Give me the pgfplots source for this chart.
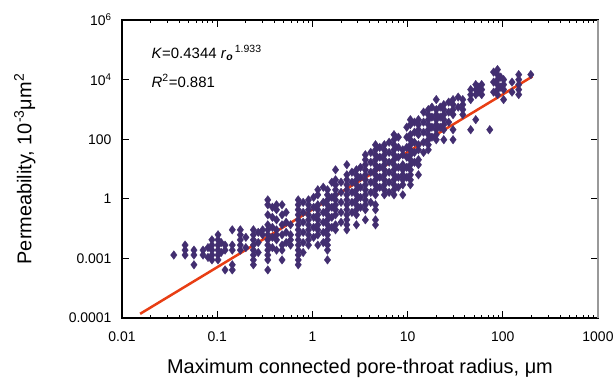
\documentclass[border=0pt]{standalone}
\usepackage{fontspec}
\setmainfont{Liberation Sans}
\usepackage{pgfplots}
\usepackage{pgfplotstable}
\pgfplotsset{compat=1.18}
\definecolor{pts}{RGB}{66,46,112}
\definecolor{fitc}{RGB}{232,62,20}
\pgfplotstableread{
r K
0.035 0.013
0.046 0.028
0.046 0.019
0.046 0.013
0.057 0.019
0.057 0.013
0.057 0.0061
0.071 0.019
0.071 0.013
0.08 0.023
0.08 0.0108
0.088 0.042
0.088 0.028
0.088 0.019
0.088 0.013
0.088 0.0089
0.102 0.062
0.102 0.042
0.102 0.028
0.102 0.019
0.102 0.013
0.102 0.0089
0.11 0.034
0.11 0.0158
0.121 0.028
0.121 0.019
0.121 0.0041
0.144 0.091
0.144 0.028
0.144 0.019
0.144 0.0061
0.144 0.0041
0.175 0.091
0.175 0.062
0.175 0.042
0.175 0.028
0.175 0.019
0.2 0.051
0.2 0.023
0.24 0.091
0.24 0.062
0.24 0.042
0.24 0.028
0.24 0.019
0.24 0.013
0.24 0.0089
0.24 0.0061
0.27 0.075
0.27 0.034
0.27 0.0158
0.30 0.091
0.30 0.062
0.34 0.92
0.34 0.63
0.34 0.29
0.34 0.134
0.34 0.091
0.34 0.062
0.34 0.042
0.34 0.028
0.34 0.019
0.34 0.013
0.34 0.0089
0.34 0.0041
0.38 0.52
0.38 0.24
0.38 0.11
0.38 0.051
0.38 0.023
0.42 0.63
0.42 0.43
0.42 0.197
0.42 0.091
0.42 0.062
0.42 0.042
0.42 0.019
0.48 0.63
0.48 0.29
0.48 0.134
0.48 0.062
0.48 0.028
0.48 0.019
0.48 0.0089
0.53 0.35
0.53 0.163
0.53 0.075
0.53 0.034
0.59 0.134
0.59 0.062
0.59 0.042
0.59 0.028
0.71 0.92
0.71 0.63
0.71 0.43
0.71 0.29
0.71 0.197
0.71 0.134
0.71 0.091
0.71 0.062
0.71 0.042
0.71 0.028
0.71 0.019
0.71 0.013
0.71 0.0089
0.71 0.0061
0.8 0.76
0.8 0.35
0.8 0.163
0.8 0.075
0.8 0.034
0.8 0.0158
0.91 0.92
0.91 0.63
0.91 0.43
0.91 0.29
0.91 0.197
0.91 0.134
0.91 0.091
0.91 0.062
0.91 0.042
0.91 0.028
1.03 1.12
1.03 0.52
1.03 0.24
1.03 0.11
1.03 0.051
1.14 2.01
1.14 1.36
1.14 0.63
1.14 0.43
1.14 0.29
1.14 0.197
1.14 0.134
1.14 0.091
1.14 0.062
1.14 0.028
1.3 2.44
1.3 0.76
1.3 0.35
1.3 0.163
1.3 0.075
1.3 0.034
1.44 2.01
1.44 1.36
1.44 0.92
1.44 0.63
1.44 0.43
1.44 0.29
1.44 0.197
1.44 0.134
1.44 0.091
1.44 0.062
1.44 0.042
1.44 0.028
1.44 0.019
1.44 0.0089
1.6 3.6
1.6 1.12
1.6 0.52
1.6 0.24
1.6 0.11
1.75 9.4
1.75 4.35
1.75 2.96
1.75 2.01
1.75 1.36
1.75 0.92
1.75 0.63
1.75 0.43
1.75 0.29
1.75 0.134
1.75 0.091
2.0 3.6
2.0 1.65
2.0 0.76
2.0 0.35
2.0 0.163
2.3 13.9
2.3 6.4
2.3 4.35
2.3 2.96
2.3 2.01
2.3 1.36
2.3 0.92
2.3 0.63
2.3 0.43
2.3 0.29
2.3 0.197
2.3 0.134
2.3 0.091
2.6 7.8
2.6 3.6
2.6 1.65
2.6 0.76
2.6 0.35
2.9 9.4
2.9 6.4
2.9 4.35
2.9 2.96
2.9 2.01
2.9 1.36
2.9 0.92
2.9 0.63
2.9 0.43
2.9 0.29
2.9 0.134
3.2 11.4
3.2 5.3
3.2 2.44
3.2 1.12
3.2 0.52
3.6 30
3.6 20.5
3.6 13.9
3.6 9.4
3.6 6.4
3.6 4.35
3.6 2.96
3.6 2.01
3.6 1.36
3.6 0.92
3.6 0.63
3.6 0.43
3.6 0.197
4.1 36
4.1 16.9
4.1 7.8
4.1 3.6
4.1 1.65
4.1 0.76
4.6 65
4.6 44
4.6 30
4.6 20.5
4.6 13.9
4.6 9.4
4.6 6.4
4.6 4.35
4.6 2.96
4.6 2.01
4.6 1.36
4.6 0.63
4.6 0.43
4.6 0.197
4.6 0.134
5.1 53
5.1 24.9
5.1 11.4
5.1 5.3
5.1 2.44
5.7 65
5.7 44
5.7 30
5.7 20.5
5.7 13.9
5.7 9.4
5.7 6.4
5.7 4.35
5.7 2.96
5.7 2.01
5.7 1.36
6.4 79
6.4 36
6.4 16.9
6.4 7.8
6.4 3.6
6.4 1.65
7.2 142
7.2 96
7.2 65
7.2 44
7.2 30
7.2 20.5
7.2 13.9
7.2 9.4
7.2 6.4
7.2 4.35
7.2 2.96
7.2 2.01
7.2 1.36
8.0 117
8.0 53
8.0 24.9
8.0 11.4
8.0 5.3
8.0 2.44
8.9 44
8.9 30
8.9 13.9
8.9 9.4
8.9 6.4
8.9 4.35
8.9 2.96
8.9 1.36
9.8 252
9.8 117
9.8 53
9.8 24.9
9.8 11.4
9.8 5.3
10.7 452
10.7 307
10.7 142
10.7 96
10.7 65
10.7 44
10.7 30
10.7 20.5
10.7 13.9
10.7 9.4
10.7 6.4
10.7 4.35
10.7 2.96
11.8 373
11.8 172
11.8 79
11.8 36
11.8 16.9
13 452
13 307
13 208
13 142
13 65
13 44
13 20.5
13 13.9
13 6.4
14.7 810
14.7 373
14.7 172
14.7 79
14.7 36
16.5 982
16.5 667
16.5 452
16.5 307
16.5 208
16.5 142
16.5 96
16.5 65
16.5 44
18 1190
18 549
18 252
18 117
20 2130
20 982
20 667
20 452
20 307
20 208
20 142
20 96
22 1190
22 549
22 252
24 1445
24 982
24 667
24 452
24 307
24 208
24 96
27 1754
27 810
27 373
30 2130
30 1445
30 982
30 667
30 208
30 96
34 2590
34 1190
38 2130
38 1445
38 982
38 667
46 4610
46 3130
46 2130
46 208
52 6790
52 4610
52 3130
52 452
56 5600
56 3800
60 6790
60 4610
60 3130
73 208
80 17850
80 8240
80 3800
88 21700
88 14700
88 10000
88 6790
88 4610
88 3130
95 12140
95 5600
102 10000
102 6790
102 4610
102 2130
125 8240
125 3800
147 14700
147 10000
147 6790
147 4610
147 3130
197 14700
}\datatable
\begin{document}
\begin{tikzpicture}
\useasboundingbox (-122bp,-61bp) rectangle (491bp,318bp);
\begin{loglogaxis}[
  scale only axis, width=476bp, height=298bp,
  xmin=0.01, xmax=1000, ymin=1e-4, ymax=1e6,
  xtick={0.01,0.1,1,10,100,1000},
  xticklabels={0.01,0.1,1,10,100,1000},
  ytick={1e-4,1e-2,1,1e2,1e4,1e6},
  yticklabels={0.0001,0.001,1,100,10\textsuperscript{4},10\textsuperscript{6}},
  minor xtick={}, minor ytick={},
  tick align=inside, major tick length=7bp,
  tick style={black, line width=1bp},
  axis line style={line width=1.6bp},
  ticklabel style={font=\fontsize{14}{16}\selectfont},
  xticklabel style={yshift=-10bp},
  yticklabel style={xshift=-7bp},
  label style={font=\fontsize{20}{24}\selectfont},
  xlabel={Maximum connected pore-throat radius, μm},
  ylabel={Permeability, 10\textsuperscript{-3}μm\textsuperscript{2}},
  xlabel style={at={(axis description cs:0.5,-0.168)}, anchor=center},
  ylabel style={at={(axis description cs:-0.204,0.5)}, anchor=center},
  clip=false,
]
\addplot[only marks, mark=diamond*, mark size=4.3bp,
  mark options={fill=pts, draw=pts, line width=0.3bp}] table[x=r, y=K] {\datatable};
\addplot[fitc, line width=2.5bp, no marks] coordinates {(0.0155,1.38e-4) (1,0.4344) (205,12770)};
\draw[gray!80, line width=2bp] (rel axis cs:1,0) -- (rel axis cs:1,1);
\node[anchor=base west, font=\fontsize{15}{17}\selectfont] at (rel axis cs:0.055,0.872)
  {\textit{K}=0.4344 \textit{r}\textsubscript{\textbf{\textit{o}}}\textsuperscript{\,1.933}};
\node[anchor=base west, font=\fontsize{15}{17}\selectfont] at (rel axis cs:0.055,0.775)
  {\textit{R}\textsuperscript{2}=0.881};
\end{loglogaxis}
\end{tikzpicture}
\end{document}
